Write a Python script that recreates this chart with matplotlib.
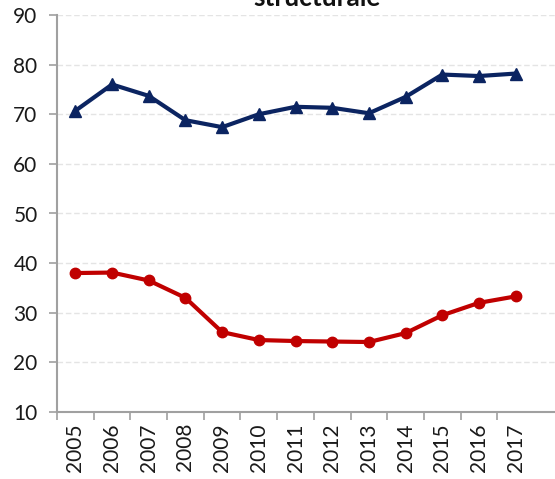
import matplotlib

matplotlib.use("Agg")
import matplotlib.pyplot as plt
import numpy as np

years = ["2005", "2006", "2007", "2008", "2009", "2010", "2011",
         "2012", "2013", "2014", "2015", "2016", "2017"]
upper_series = [70.7, 76.0, 73.7, 68.8, 67.4, 70.0, 71.5, 71.3, 70.2, 73.5, 78.0, 77.7, 78.2]
lower_series = [38.0, 38.1, 36.5, 33.0, 26.1, 24.5, 24.3, 24.2, 24.1, 25.9, 29.5, 32.0, 33.3]

plt.rcParams["font.family"] = ["Lato", "DejaVu Sans"]

fig = plt.figure(figsize=(5.55, 4.79), dpi=100)
ax = fig.add_axes([57 / 555, 1 - 412 / 479, 1 - 57 / 555, (412 - 15) / 479])

x = np.arange(len(years))
ax.plot(x, upper_series, color="#0b2461", linewidth=3.0, marker="^",
        markersize=8, zorder=3, clip_on=False)
ax.plot(x, lower_series, color="#c00000", linewidth=3.0, marker="o",
        markersize=7.5, zorder=3, clip_on=False)

ax.set_ylim(10, 90)
ax.set_yticks(np.arange(10, 91, 10))
ax.set_xlim(-0.5, 13.07)

# category boundaries carry the tick marks, labels sit at the centres
ax.set_xticks(np.arange(-0.5, len(years) - 1, 1))
ax.set_xticklabels([])
ax.set_xticks(x, minor=True)
ax.set_xticklabels(years, minor=True, rotation=90)
ax.tick_params(axis="x", which="minor", length=0, pad=8, labelsize=15, labelcolor="#1a1a1a")
ax.tick_params(axis="x", which="major", length=6, width=1.2, color="#a0a0a0")
ax.tick_params(axis="y", length=6, width=1.2, color="#a0a0a0", pad=8,
               labelsize=15, labelcolor="#1a1a1a")

ax.grid(axis="y", color="#e4e4e4", linestyle=(0, (4, 2)), linewidth=1.0)
ax.set_axisbelow(True)
for side in ("top", "right"):
    ax.spines[side].set_visible(False)
for side in ("left", "bottom"):
    ax.spines[side].set_color("#a0a0a0")
    ax.spines[side].set_linewidth(1.5)

fig.text(317 / 555, 1 - 6 / 479, "structurale", ha="center", va="baseline",
         fontsize=19, fontweight="bold", color="#111111")

fig.savefig("out.png", dpi=100)
